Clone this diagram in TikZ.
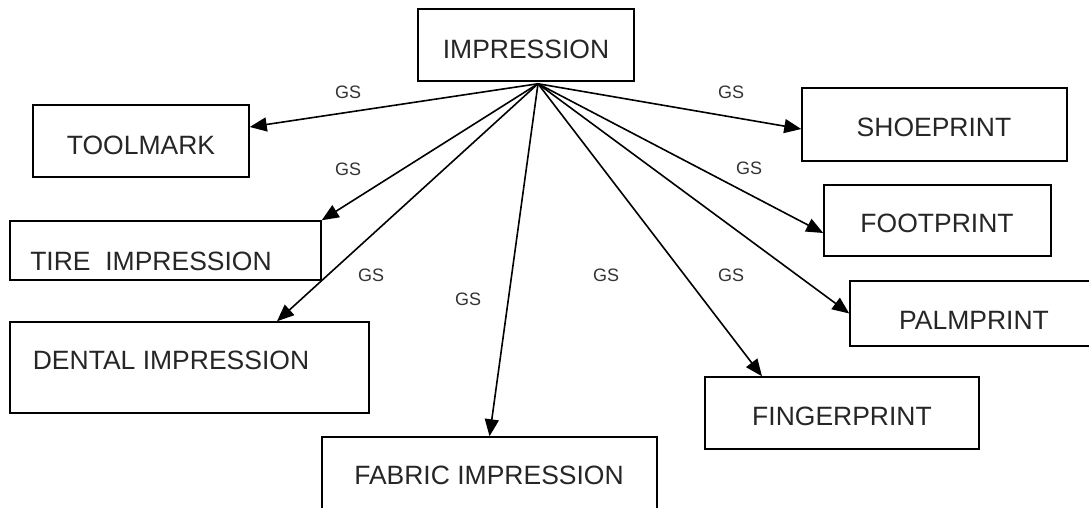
\documentclass[tikz,border=0pt]{standalone}
\usepackage{fontspec}
\setmainfont{Liberation Sans}
\usetikzlibrary{arrows.meta}
\begin{document}
\begin{tikzpicture}[x=1pt,y=-1pt,
  box/.style={draw=black,line width=1.5pt,rectangle,inner sep=0pt},
  boxtext/.style={inner sep=0pt,font=\fontsize{26.5}{28}\selectfont,text=black!85},
  gslabel/.style={inner sep=0pt,font=\fontsize{18}{20}\selectfont,text=black!80},
  arr/.style={line width=1.6pt,-{Triangle[length=17pt,width=14pt]}}]
\useasboundingbox (0,0) rectangle (1089,507);
\clip (0,0) rectangle (1089,507);
% boxes
\node[box,minimum width=216pt,minimum height=72pt] (imp) at (526,45) {};
\node[box,minimum width=216pt,minimum height=72pt] (tool) at (141,141) {};
\node[box,minimum width=311pt,minimum height=59pt] (tire) at (165.5,250.5) {};
\node[box,minimum width=359pt,minimum height=91pt] (dental) at (189.5,367.5) {};
\node[box,minimum width=335pt,minimum height=103pt] (fabric) at (489.5,488.5) {};
\node[box,minimum width=274pt,minimum height=72pt] (finger) at (842,413) {};
\node[box,minimum width=245pt,minimum height=65pt] (palm) at (972.5,313.5) {};
\node[box,minimum width=227pt,minimum height=71pt] (foot) at (937.5,220.5) {};
\node[box,minimum width=265pt,minimum height=73pt] (shoe) at (934.5,124.5) {};
% texts
\node[boxtext] (timp) at (526,49) {IMPRESSION};
\node[boxtext] (ttool) at (141,145) {TOOLMARK};
\node[boxtext] (ttire) at (151,261) {TIRE\ \ IMPRESSION};
\node[boxtext] (tdental) at (171,360) {DENTAL IMPRESSION};
\node[boxtext] (tfabric) at (489,475) {FABRIC IMPRESSION};
\node[boxtext] (tfinger) at (842,416) {FINGERPRINT};
\node[boxtext] (tpalm) at (974,320) {PALMPRINT};
\node[boxtext] (tfoot) at (937,223) {FOOTPRINT};
\node[boxtext] (tshoe) at (934,127) {SHOEPRINT};
% GS labels
\node[gslabel] (g1) at (348,92) {GS};
\node[gslabel] (g2) at (348,169) {GS};
\node[gslabel] (g3) at (371,275) {GS};
\node[gslabel] (g4) at (468,299) {GS};
\node[gslabel] (g5) at (606,275) {GS};
\node[gslabel] (g6) at (731,275) {GS};
\node[gslabel] (g7) at (731,92) {GS};
\node[gslabel] (g8) at (749,168) {GS};
% hub
\coordinate (hub) at ([xshift=12pt,yshift=-2pt]imp.south);
% arrows
\draw[arr] (hub) -- ([yshift=14pt]tool.east);
\draw[arr] (hub) -- (tire.north east);
\draw[arr] (hub) -- ([xshift=87.5pt]dental.north);
\draw[arr] (hub) -- (fabric.north);
\draw[arr] (hub) -- ([xshift=-80pt]finger.north);
\draw[arr] (hub) -- (palm.west);
\draw[arr] (hub) -- ([yshift=-12.5pt]foot.west);
\draw[arr] (hub) -- ([yshift=-4.5pt]shoe.west);
\end{tikzpicture}
\end{document}
